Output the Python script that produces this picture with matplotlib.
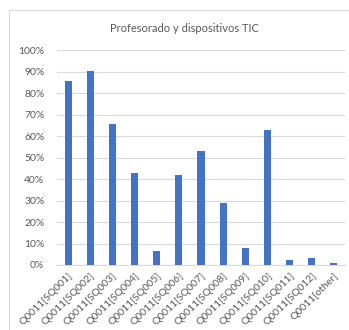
import matplotlib
matplotlib.use('Agg')
import matplotlib.pyplot as plt
from matplotlib.patches import Rectangle
from matplotlib.ticker import PercentFormatter

plt.rcParams['font.family'] = ['Lato', 'DejaVu Sans']

categories = ['Q0011[SQ001]', 'Q0011[SQ002]', 'Q0011[SQ003]', 'Q0011[SQ004]',
              'Q0011[SQ005]', 'Q0011[SQ006]', 'Q0011[SQ007]', 'Q0011[SQ008]',
              'Q0011[SQ009]', 'Q0011[SQ010]', 'Q0011[SQ011]', 'Q0011[SQ012]',
              'Q0011[other]']
values = [85.6, 90.2, 65.6, 42.8, 6.5, 41.9, 53.0, 28.8, 7.9, 62.8, 2.3, 3.3, 1.0]
title = 'Profesorado y dispositivos TIC'

fig = plt.figure(figsize=(3.49, 3.30), dpi=100)
# marco del gráfico
fig.patches.append(Rectangle((9 / 349, -0.1), 1.0, 1.1 - 10 / 330, transform=fig.transFigure,
                             fill=False, edgecolor='#d9d9d9', linewidth=0.8))
ax = fig.add_axes([57 / 349, 65 / 330, 288 / 349, 215 / 330])

x = range(len(categories))
ax.bar(x, values, width=0.32, color='#4472c4', zorder=3)

ax.set_ylim(0, 100)
ax.set_xlim(-0.5, len(categories) - 0.5)
ax.set_yticks(range(0, 101, 10))
ax.yaxis.set_major_formatter(PercentFormatter(decimals=0))
ax.grid(axis='y', color='#d9d9d9', linewidth=0.8, zorder=0)
for s in ['top', 'right', 'left']:
    ax.spines[s].set_visible(False)
ax.spines['bottom'].set_color('#d9d9d9')
ax.tick_params(length=0, labelsize=7.5, colors='#595959')
ax.tick_params(axis='y', pad=9)
ax.tick_params(axis='x', pad=4)
ax.set_xticks(list(x))
ax.set_xticklabels(categories, rotation=45, ha='right', rotation_mode='anchor')

fig.text(184 / 349, 1 - 28 / 330, title, ha='center', va='center', fontsize=8, color='#595959')

plt.savefig('out.png', dpi=100)
